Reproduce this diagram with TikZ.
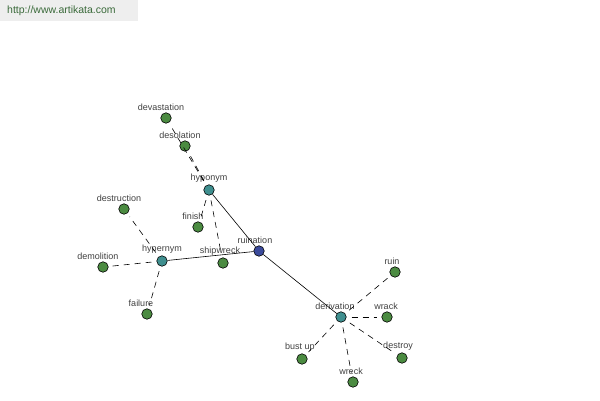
\documentclass[tikz,border=0pt]{standalone}
\usepackage{fontspec}
\setmainfont{Liberation Sans}
\definecolor{gnode}{HTML}{4B8B41}
\definecolor{tnode}{HTML}{3F8F8F}
\definecolor{bnode}{HTML}{3B4A9B}
\definecolor{lblc}{HTML}{404040}
\definecolor{wmbg}{HTML}{EEEEEE}
\definecolor{wmtx}{HTML}{3A6A3A}
\tikzset{
  nd/.style={circle,draw=black,line width=0.6pt,minimum size=10.5pt,inner sep=0pt},
  gn/.style={nd,fill=gnode},
  tn/.style={nd,fill=tnode},
  bn/.style={nd,fill=bnode},
  lbl/.style={text=lblc,font=\fontsize{9}{10}\selectfont,inner sep=0pt},
  solidedge/.style={draw=black,line width=0.6pt},
  dashedge/.style={draw=black,line width=0.6pt,dash pattern=on 6pt off 5pt,shorten <=5pt,shorten >=4pt},
}
\begin{document}
\begin{tikzpicture}[x=1pt,y=-1pt]
\useasboundingbox (0,0) rectangle (600,400);
\fill[wmbg] (0,0) rectangle (138,21);
\node[text=wmtx,font=\fontsize{10.5}{12}\selectfont,anchor=west,inner sep=0pt] (wm) at (7,11) {http://www.artikata.com};
% nodes
\node[bn,label={[lbl,label distance=2pt,xshift=-4pt]above:ruination}] (ru) at (259,251) {};
\node[tn,label={[lbl,label distance=2pt]above:hyponym}] (hypo) at (209,190) {};
\node[tn,label={[lbl,label distance=2pt]above:hypernym}] (hyper) at (162,261) {};
\node[tn,label={[lbl,label distance=2pt,xshift=-6pt]above:derivation}] (der) at (341,317) {};
\node[gn,label={[lbl,label distance=2pt,xshift=-5pt]above:devastation}] (dev) at (166,118) {};
\node[gn,label={[lbl,label distance=2pt,xshift=-5pt]above:desolation}] (des) at (185,146) {};
\node[gn,label={[lbl,label distance=2pt,xshift=-5pt]above:destruction}] (dstr) at (124,209) {};
\node[gn,label={[lbl,label distance=2pt,xshift=-5pt]above:finish}] (fin) at (198,227) {};
\node[gn,label={[lbl,label distance=2pt,xshift=-3pt]above:shipwreck}] (ship) at (223,263) {};
\node[gn,label={[lbl,label distance=2pt,xshift=-5pt]above:demolition}] (dem) at (103,267) {};
\node[gn,label={[lbl,label distance=2pt,xshift=-6pt]above:failure}] (fail) at (147,314) {};
\node[gn,label={[lbl,label distance=2pt,xshift=-3pt]above:ruin}] (ruin) at (395,272) {};
\node[gn,label={[lbl,label distance=2pt,xshift=-1pt]above:wrack}] (wrack) at (387,317) {};
\node[gn,label={[lbl,label distance=2pt,xshift=-4pt]above:destroy}] (destroy) at (402,358) {};
\node[gn,label={[lbl,label distance=2pt,xshift=-2pt]above:bust up}] (bust) at (302,359) {};
\node[gn,label={[lbl,label distance=2pt,xshift=-2pt]above:wreck}] (wreck) at (353,382) {};
% edges
\draw[solidedge] (ru) -- (hypo);
\draw[solidedge] (ru) -- (hyper);
\draw[solidedge] (ru) -- (der);
\draw[dashedge] (hypo) -- (dev);
\draw[dashedge] (hypo) -- (des);
\draw[dashedge] (hypo) -- (fin);
\draw[dashedge] (hypo) -- (ship);
\draw[dashedge] (hyper) -- (dstr);
\draw[dashedge] (hyper) -- (dem);
\draw[dashedge] (hyper) -- (fail);
\draw[dashedge] (der) -- (ruin);
\draw[dashedge] (der) -- (wrack);
\draw[dashedge] (der) -- (destroy);
\draw[dashedge] (der) -- (bust);
\draw[dashedge] (der) -- (wreck);
\end{tikzpicture}
\end{document}
